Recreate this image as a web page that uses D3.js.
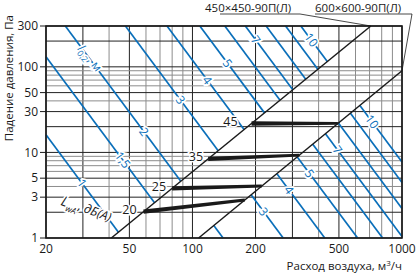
<!DOCTYPE html>
<html>
<head>
<meta charset="utf-8">
<script src="https://cdn.jsdelivr.net/npm/d3@7"></script>
<style>
  body { margin: 0; background: #fff; }
  text { font-family: "Open Sans", "Noto Sans", sans-serif; }
</style>
</head>
<body>
<svg id="chart" width="416" height="274"></svg>
<script>
// Axis ticks and grid
const xTicks = [20, 50, 100, 200, 500, 1000]
const yTicks = [1, 3, 5, 10, 30, 50, 100, 300]
const xGrid = [20, 30, 40, 50, 60, 70, 80, 90, 100, 200, 300, 400, 500, 600, 700, 800, 900, 1000]
const yGrid = [1, 2, 3, 4, 5, 6, 7, 8, 9, 10, 20, 30, 40, 50, 60, 70, 80, 90, 100, 200, 300]

// Diffuser sizes: pressure drop line given by two points (Q, P)
const sizeNames = ["450×450-90П(Л)", "600×600-90П(Л)"]
const sizeQ = [[41, 710], [107, 1000]]
const sizeP = [[1, 300], [1, 90]]

// Throw l0,2 lines: flow where the line reaches 1 Pa
const throwValues = [1, 1.5, 2, 3, 4, 5, 6, 7, 8, 9, 10]
const throwQ1 = [46.5, 88, 140, 271, 428, 614, 808, 1012, 1272, 1575, 1862]
const throwSlope = 3.29

// label places (pressure along the line)
const leftLabelThrow = [1, 1.5, 2, 3, 4, 5, 7, 10]
const leftLabelP = [4.36, 8.15, 17.5, 41, 70, 110, 206, 206]
const rightLabelThrow = [3, 4, 5, 7, 10]
const rightLabelP = [2.03, 3.64, 5.7, 10.66, 22.9]

// Sound power LwA, dB(A): pressure on each size line
const noiseLevels = [20, 25, 35, 45]
const noiseP450 = [2.03, 3.8, 8.4, 21.8]
const noiseP600 = [2.78, 4.05, 9.3, 21.8]

const blue = "#0a6fba"
const svg = d3.select("#chart")

const x = d3.scaleLog().domain([20, 1000]).range([46, 402])
const y = d3.scaleLog().domain([1, 300]).range([238, 26])

const L = Math.log10

// helpers in log space
function sizeN(i) { return L(sizeP[i][1] / sizeP[i][0]) / L(sizeQ[i][1] / sizeQ[i][0]) }
function sizeQatP(i, p) { return Math.pow(10, L(sizeQ[i][0]) + (L(p) - L(sizeP[i][0])) / sizeN(i)) }
function throwP(q1, q) { return Math.pow(q1 / q, throwSlope) }
function throwQ(q1, p) { return q1 * Math.pow(p, -1 / throwSlope) }
function crossQ(q1, i) {
    const n = sizeN(i)
    const lq = (throwSlope * L(q1) - L(sizeP[i][0]) + n * L(sizeQ[i][0])) / (throwSlope + n)
    return Math.pow(10, lq)
}

// Grid
const major = v => [1, 2, 3, 5].includes(Math.round(v / Math.pow(10, Math.floor(L(v) + 1e-9))))
svg.append("g")
    .selectAll("line")
    .data(xGrid)
    .join("line")
        .attr("x1", d => x(d)).attr("x2", d => x(d))
        .attr("y1", y(1)).attr("y2", y(300))
        .attr("stroke", d => major(d) ? "#222" : "#8c8c8c")
        .attr("stroke-width", 1)
svg.append("g")
    .selectAll("line")
    .data(yGrid)
    .join("line")
        .attr("y1", d => y(d)).attr("y2", d => y(d))
        .attr("x1", x(20)).attr("x2", x(1000))
        .attr("stroke", d => major(d) ? "#222" : "#8c8c8c")
        .attr("stroke-width", 1)

// Throw lines, left part ends at the small size, right part starts at the big size
const segs = []
throwValues.forEach((t, k) => {
    const q1 = throwQ1[k]
    const a0 = Math.max(20, throwQ(q1, 300)), a1 = crossQ(q1, 0)
    if (a1 > a0) segs.push([a0, a1, q1])
    const b0 = crossQ(q1, 1), b1 = Math.min(1000, q1)
    if (b1 > b0) segs.push([b0, b1, q1])
})
svg.append("g")
    .selectAll("line")
    .data(segs)
    .join("line")
        .attr("x1", d => x(d[0])).attr("y1", d => y(throwP(d[2], d[0])))
        .attr("x2", d => x(d[1])).attr("y2", d => y(throwP(d[2], d[1])))
        .attr("stroke", blue)
        .attr("stroke-width", 1.7)

const ang = Math.atan2(y(throwP(100, 40)) - y(throwP(100, 20)), x(40) - x(20)) * 180 / Math.PI

function blueLabel(q1, p, txt) {
    const q = throwQ(q1, p)
    return svg.append("text")
        .attr("transform", `translate(${x(q)},${y(p)}) rotate(${ang})`)
        .attr("text-anchor", "middle")
        .attr("dy", "0.36em")
        .attr("font-size", 12)
        .attr("fill", blue)
        .attr("stroke", "#fff").attr("stroke-width", 3.5)
        .attr("paint-order", "stroke")
        .text(txt)
}
leftLabelThrow.forEach((t, k) => blueLabel(throwQ1[throwValues.indexOf(t)], leftLabelP[k], String(t).replace(".", ",")))
rightLabelThrow.forEach((t, k) => blueLabel(throwQ1[throwValues.indexOf(t)], rightLabelP[k], String(t)))

// l0,2, m label on the "2" line
const lt = blueLabel(throwQ1[2], 125, "")
lt.append("tspan").attr("font-style", "italic").text("l")
lt.append("tspan").attr("font-size", 8.5).attr("dy", "0.35em").text("0,2")
lt.append("tspan").attr("dy", "-0.35em").text(", м")

// Size lines
svg.append("g")
    .selectAll("line")
    .data(sizeNames)
    .join("line")
        .attr("x1", (d, i) => x(Math.max(20, sizeQatP(i, 1)))).attr("y1", y(1))
        .attr("x2", (d, i) => x(sizeQ[i][1])).attr("y2", (d, i) => y(sizeP[i][1]))
        .attr("stroke", "#1a1a1a")
        .attr("stroke-width", 1.5)

// Leaders and names of sizes
const nameX = [205, 315], lineEnd = [300, 412]
sizeNames.forEach((name, i) => {
    svg.append("text")
        .attr("x", nameX[i]).attr("y", 11.5)
        .attr("font-size", 11.5)
        .attr("fill", "#1a1a1a")
        .text(name)
    svg.append("polyline")
        .attr("points", [[nameX[i] + (i ? 0 : 15), 14], [lineEnd[i], 14], [x(sizeQ[i][1]), y(sizeP[i][1])]].join(" "))
        .attr("fill", "none")
        .attr("stroke", "#1a1a1a")
        .attr("stroke-width", 0.8)
})

// Noise level bars (slightly tapered)
const labelShift = [7, 6, 5, 14]
noiseLevels.forEach((lv, k) => {
    const x1 = x(sizeQatP(0, noiseP450[k])), y1 = y(noiseP450[k])
    const x2 = x(sizeQatP(1, noiseP600[k])), y2 = y(noiseP600[k])
    const len = Math.hypot(x2 - x1, y2 - y1)
    const nx = -(y2 - y1) / len, ny = (x2 - x1) / len
    const w1 = 2.2, w2 = 1.4
    svg.append("path")
        .attr("d", d3.line()([[x1 + nx * w1, y1 + ny * w1], [x2 + nx * w2, y2 + ny * w2],
                              [x2 - nx * w2, y2 - ny * w2], [x1 - nx * w1, y1 - ny * w1]]) + "Z")
        .attr("fill", "#1a1a1a")
    svg.append("text")
        .attr("x", x1 - labelShift[k]).attr("y", y1 - 2)
        .attr("dy", "0.36em")
        .attr("text-anchor", "end")
        .attr("font-size", 12.5)
        .attr("fill", "#1a1a1a")
        .attr("stroke", "#fff").attr("stroke-width", 3)
        .attr("paint-order", "stroke")
        .text(lv)
})

// LwA label
const lw = svg.append("text")
    .attr("transform", `translate(${x(23.3)},${y(2.45)}) rotate(21)`)
    .attr("font-size", 12.5)
    .attr("fill", "#1a1a1a")
    .attr("stroke", "#fff").attr("stroke-width", 3)
    .attr("paint-order", "stroke")
lw.append("tspan").attr("font-style", "italic").attr("font-size", 14).text("L")
lw.append("tspan").attr("font-style", "italic").attr("font-size", 8.5).attr("dy", "0.45em").text("wA")
lw.append("tspan").attr("dy", "-0.45em").text(", ")
lw.append("tspan").attr("font-style", "italic").text("дБ(A)")

// Frame
svg.append("rect")
    .attr("x", x(20)).attr("y", y(300))
    .attr("width", x(1000) - x(20)).attr("height", y(1) - y(300))
    .attr("fill", "none")
    .attr("stroke", "#1a1a1a")
    .attr("stroke-width", 1.6)

// Axes labels
svg.append("g")
    .selectAll("text")
    .data(xTicks)
    .join("text")
        .attr("x", d => x(d)).attr("y", 253)
        .attr("text-anchor", "middle")
        .attr("font-size", 12)
        .attr("fill", "#1a1a1a")
        .text(d => d)
svg.append("g")
    .selectAll("text")
    .data(yTicks)
    .join("text")
        .attr("x", 38).attr("y", d => y(d))
        .attr("dy", "0.36em")
        .attr("text-anchor", "end")
        .attr("font-size", 12)
        .attr("fill", "#1a1a1a")
        .text(d => d)
svg.append("g")
    .selectAll("line")
    .data(yTicks)
    .join("line")
        .attr("x1", 40).attr("x2", x(20))
        .attr("y1", d => y(d)).attr("y2", d => y(d))
        .attr("stroke", "#1a1a1a")

const xt = svg.append("text")
    .attr("x", 402).attr("y", 270)
    .attr("text-anchor", "end")
    .attr("font-size", 11.5)
    .attr("fill", "#1a1a1a")
xt.append("tspan").text("Расход воздуха, м")
xt.append("tspan").attr("font-size", 8).attr("dy", "-0.45em").text("3")
xt.append("tspan").attr("dy", "0.3em").text("/ч")

svg.append("text")
    .attr("transform", "translate(13,15) rotate(-90)")
    .attr("text-anchor", "end")
    .attr("font-size", 11.5)
    .attr("fill", "#1a1a1a")
    .text("Падение давления, Па")
</script>
</body>
</html>
